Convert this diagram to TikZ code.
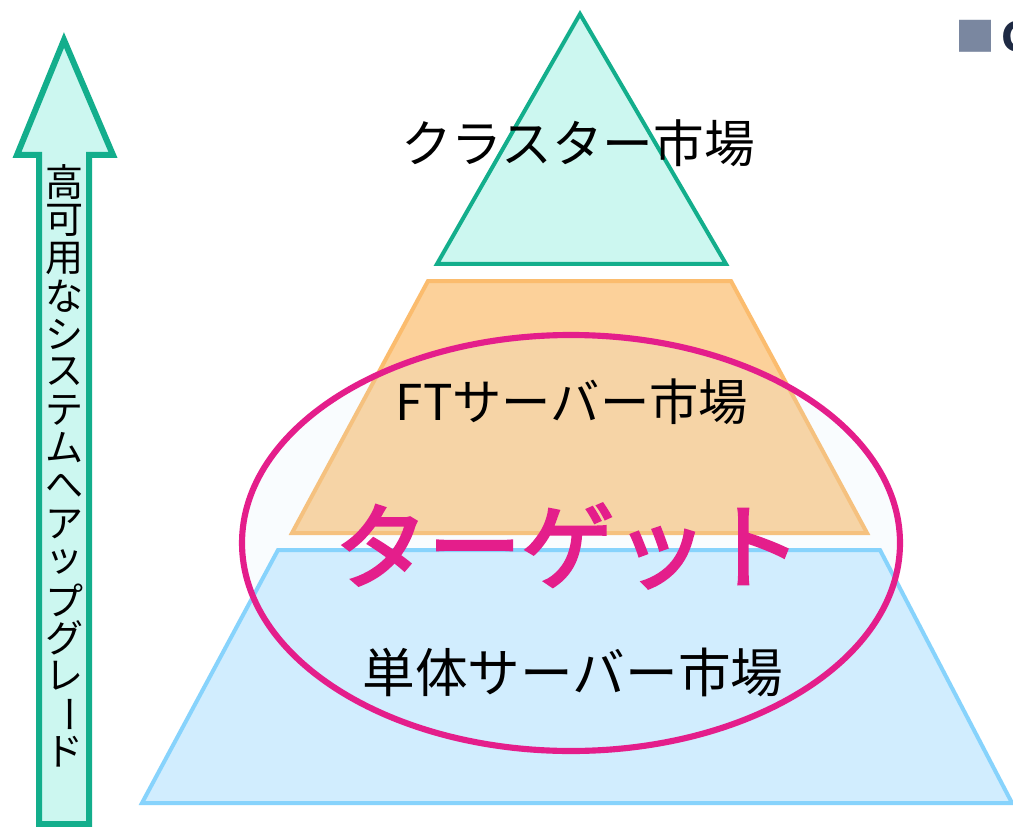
\documentclass[tikz,border=0pt]{standalone}
\usepackage{fontspec}
\usepackage{graphicx}
\newfontfamily\jp{Noto Sans CJK JP}
\newfontfamily\jpfb[FakeBold=3]{Noto Sans CJK JP}
\definecolor{teal}{HTML}{13AE8C}
\definecolor{mint}{HTML}{CCF7F0}
\definecolor{orfill}{HTML}{FCD19A}
\definecolor{orline}{HTML}{FBBC6E}
\definecolor{blfill}{HTML}{D1EDFE}
\definecolor{blline}{HTML}{87D3FC}
\definecolor{magenta}{HTML}{E41E8B}
\definecolor{bullet}{HTML}{7A87A0}
\definecolor{navy}{HTML}{1F2A44}
\tikzset{
  arrowbox/.style={draw=teal, fill=mint, line width=4.5pt, line join=miter},
  tribox/.style={draw=teal, fill=mint, line width=3pt, line join=miter},
  orbox/.style={draw=orline, fill=orfill, line width=3pt, line join=miter},
  blbox/.style={draw=blline, fill=blfill, line width=3pt, line join=miter},
  label/.style={inner sep=0pt, text=black},
  vchar/.style={inner sep=0pt, font=\jp\fontsize{28.5}{30}\selectfont, text=black},
}
\begin{document}
\begin{tikzpicture}[x=0.75pt,y=-0.75pt]
\useasboundingbox (0,0) rectangle (1013,827);
\clip (0,0) rectangle (1013,827);
\fill[white] (0,0) rectangle (1013,827);
% arrow
\draw[arrowbox] (39,824) -- (39,155) -- (17,155) -- (64,40) -- (113,155) -- (89,155) -- (89,824) -- cycle;
\foreach \c [count=\i from 0] in {高,可,用,な,シ,ス,テ,ム,へ,ア,ッ,プ,グ,レ} {
  \node[vchar] (v\i) at (64,{182+38*\i}) {\c};
}
\node[vchar] (v14) at (64,{182+38*14}) {\rotatebox[origin=c]{-90}{ー}};
\node[vchar] (v15) at (64,{182+38*15}) {ド};
% pyramid
\draw[tribox] (580,14) -- (726,264) -- (437,264) -- cycle;
\draw[orbox] (428,281) -- (731,281) -- (867,533) -- (292,533) -- cycle;
\fill[blfill, opacity=0.12] (571,543) ellipse [x radius=329, y radius=208];
\draw[blbox] (278,550) -- (880,550) -- (1012,803) -- (142,803) -- cycle;
\draw[magenta, line width=4.6pt] (571,543) ellipse [x radius=329, y radius=208];
% labels
\node[label, font=\jp\fontsize{38}{40}\selectfont] (cluster) at (578,143) {クラスター市場};
\node[label, font=\jp\fontsize{37}{40}\selectfont] (ft) at (572,402) {FTサーバー市場};
\node[label, font=\jp\fontsize{39.5}{42}\selectfont] (single) at (573,672) {単体サーバー市場};
\node[inner sep=0pt, font=\jpfb\fontsize{70}{74}\selectfont, text=magenta] (target) at (568,546) {ターゲット};
% top-right cut-off heading
\node[anchor=west, inner sep=0pt, font=\jp\bfseries\fontsize{30}{32}\selectfont] (head) at (955,36) {\textcolor{bullet}{■}\,\textcolor{navy}{C}};
\end{tikzpicture}
\end{document}
